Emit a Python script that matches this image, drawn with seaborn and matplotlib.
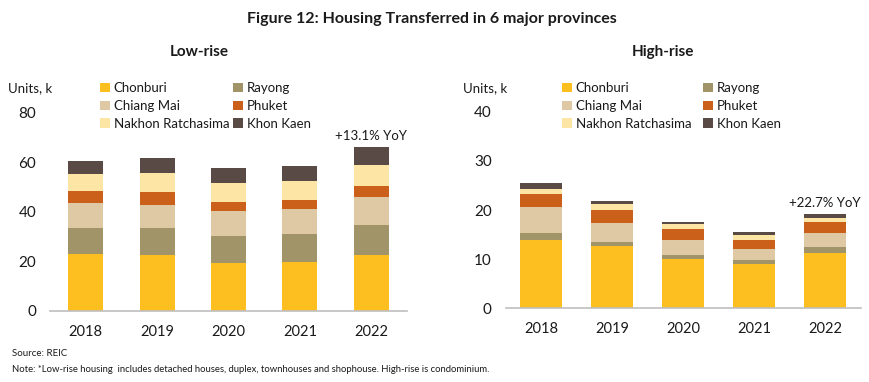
import numpy as np
import pandas as pd
import matplotlib
matplotlib.use("Agg")
import matplotlib.pyplot as plt
from matplotlib.patches import Patch
import seaborn as sns

years = ["2018", "2019", "2020", "2021", "2022"]
provinces = ["Chonburi", "Rayong", "Chiang Mai", "Phuket", "Nakhon Ratchasima", "Khon Kaen"]
colors = ["#FDBE1F", "#A09468", "#DFC9A5", "#CB601B", "#FDE5A5", "#5A4A45"]

# low-rise, thousand units
low_chonburi = [23.0, 22.5, 19.4, 19.7, 22.5]
low_rayong = [10.4, 10.9, 10.9, 11.3, 12.1]
low_chiangmai = [10.2, 9.4, 10.1, 10.2, 11.3]
low_phuket = [4.6, 5.1, 3.4, 3.5, 4.3]
low_nakhon = [7.0, 7.9, 7.9, 7.7, 8.5]
low_khonkaen = [5.3, 5.7, 6.1, 6.1, 7.3]

# high-rise, thousand units
high_chonburi = [13.9, 12.7, 10.0, 9.0, 11.25]
high_rayong = [1.35, 0.75, 0.75, 0.8, 1.2]
high_chiangmai = [5.3, 4.0, 3.2, 2.3, 2.8]
high_phuket = [2.8, 2.6, 2.2, 1.7, 2.4]
high_nakhon = [0.9, 1.1, 1.1, 1.2, 0.8]
high_khonkaen = [1.2, 0.6, 0.3, 0.6, 0.7]

low = [low_chonburi, low_rayong, low_chiangmai, low_phuket, low_nakhon, low_khonkaen]
high = [high_chonburi, high_rayong, high_chiangmai, high_phuket, high_nakhon, high_khonkaen]

sns.set_style("white")
plt.rcParams['font.family'] = ['Lato', 'DejaVu Sans']
txt = "#1a1a1a"

fig = plt.figure(figsize=(8.7, 3.82), dpi=100)
W, H = 870, 382

def fx(px):
    return px / W

def fy(py):
    return 1 - py / H

ax1 = fig.add_axes([fx(50), fy(310.7), fx(357), (310.7 - 112.7) / H])
ax2 = fig.add_axes([fx(505.7), fy(308.3), fx(355), (308.3 - 111.7) / H])


def stacked(ax, series, width, ymax, step):
    bottom = np.zeros(len(years))
    for vals, c in zip(series, colors):
        sns.barplot(x=years, y=vals, bottom=bottom, color=c, width=width,
                    saturation=1, ax=ax, edgecolor="none", linewidth=0)
        bottom = bottom + np.array(vals)
    ax.set_ylim(0, ymax)
    ax.set_xlim(-0.5, 4.5)
    ax.set_yticks(np.arange(0, ymax + 1, step))
    ax.set_xlabel("")
    ax.set_ylabel("")
    for s in ["top", "right", "left"]:
        ax.spines[s].set_visible(False)
    ax.spines["bottom"].set_color("#BFBFBF")
    ax.spines["bottom"].set_linewidth(1.2)
    ax.tick_params(axis="y", length=0, pad=10, labelsize=11, labelcolor=txt)
    ax.tick_params(axis="x", length=0, pad=10, labelsize=10.5, labelcolor=txt)
    return bottom


tot1 = stacked(ax1, low, 0.49, 80, 20)
tot2 = stacked(ax2, high, 0.59, 40, 10)

ax1.text(4, tot1[-1] + 4.5, "+13.1% YoY", ha="center", va="center", fontsize=9.5, color=txt, clip_on=False)
ax2.text(4, tot2[-1] + 2.2, "+22.7% YoY", ha="center", va="center", fontsize=9.5, color=txt, clip_on=False)

order = [0, 2, 4, 1, 3, 5]
handles = [Patch(facecolor=colors[i], edgecolor="none", label=provinces[i]) for i in order]


def add_legend(x0, colsp):
    fig.legend(handles=handles, ncol=2, loc="upper left",
               bbox_to_anchor=(fx(x0), fy(82)), frameon=False,
               fontsize=9.5, handlelength=0.75, handleheight=0.75,
               handletextpad=0.3, labelspacing=0.45, columnspacing=colsp,
               borderpad=0, borderaxespad=0, labelcolor=txt)


add_legend(100, 0.25)
add_legend(562, 0.85)

fig.text(fx(8), fy(88), "Units, k", fontsize=9.5, va="center", ha="left", color=txt)
fig.text(fx(463), fy(88), "Units, k", fontsize=9.5, va="center", ha="left", color=txt)

fig.text(fx(432), fy(19), "Figure 12: Housing Transferred in 6 major provinces",
         fontsize=11.5, fontweight="bold", ha="center", va="center", color=txt)
fig.text(fx(199), fy(52), "Low-rise", fontsize=11, fontweight="bold", ha="center", va="center", color=txt)
fig.text(fx(663), fy(52), "High-rise", fontsize=11, fontweight="bold", ha="center", va="center", color=txt)

fig.text(fx(12), fy(354), "Source: REIC", fontsize=7, ha="left", va="center", color=txt)
fig.text(fx(12), fy(370),
         "Note: *Low-rise housing  includes detached houses, duplex, townhouses and shophouse. High-rise is condominium.",
         fontsize=6.8, ha="left", va="center", color=txt)

fig.savefig("out.png", dpi=100)
